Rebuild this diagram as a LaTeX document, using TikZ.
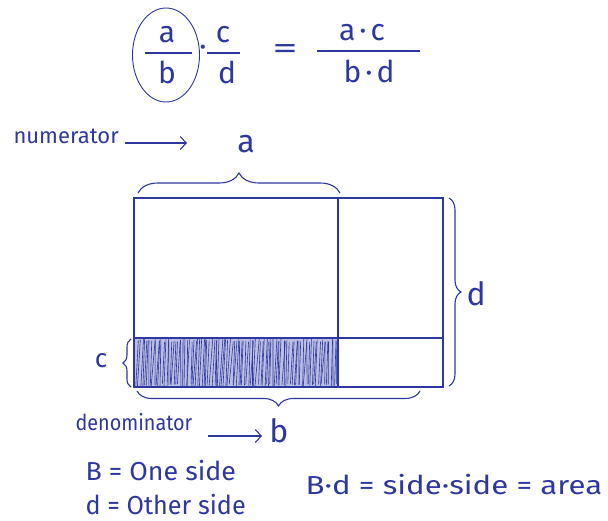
\documentclass[tikz,border=0pt]{standalone}
\usepackage{fontspec}
\setmainfont{Fira Sans}
\usetikzlibrary{decorations.pathreplacing,arrows.meta,shapes.geometric}
\definecolor{ink}{RGB}{45,55,160}
\begin{document}
\begin{tikzpicture}[x=1pt,y=-1pt,line width=1.1pt,draw=ink,
  lbl/.style={text=ink,inner sep=0pt,font=\fontsize{22}{24}\selectfont},
  big/.style={text=ink,inner sep=0pt,font=\fontsize{26}{28}\selectfont},
  let/.style={text=ink,inner sep=0pt,font=\fontsize{32}{34}\selectfont},
  eq/.style={text=ink,inner sep=0pt,font=\fontsize{30}{32}\selectfont},
  brc/.style={decorate,decoration={brace,amplitude=#1}},
  handarrow/.style={-{Straight Barb[length=6pt,width=13pt]}}]
\useasboundingbox (0,0) rectangle (608,520);

% ---- equation ----
\node[draw=ink,ellipse,minimum width=67pt,minimum height=94pt,line width=0.9pt] (circ) at (166,55) {};
\node[eq] (fa) at (167,35) {a};
\node[eq] (fb) at (167,72) {b};
\draw (145,53) -- (192,53);
\node[eq] (dot1) at (203,51) {·};
\node[eq] (fc) at (223,35) {c};
\node[eq] (fd) at (227,72) {d};
\draw (207,53) -- (240,53);
\node[eq] (eqs) at (285,52) {\scalebox{1.7}[1]{=}};
\node[eq] (ac) at (362,33) {a\hspace{4pt}·\hspace{4pt}c};
\node[eq] (bd) at (369,71) {b\hspace{4pt}·\hspace{4pt}d};
\draw (317,51) -- (420,51);

% ---- numerator ----
\node[lbl,anchor=base west] (num) at (13,143) {numerator};
\coordinate (numend) at (187,143);
\draw[handarrow] ([xshift=6pt]num.base east) -- (numend);
\node[let,anchor=base] (la) at (246,152) {a};

% ---- rectangle ----
\coordinate (tl) at (134,198);
\coordinate (br) at (443,387);
\coordinate (vt) at (338,198);
\coordinate (vb) at (338,387);
\coordinate (hl) at (134,338);
\coordinate (hr) at (443,338);
\fill[ink!32] (hl) rectangle (vb);
\pgfmathsetseed{7}
\foreach \x in {136,138,...,336}{
  \pgfmathsetmacro\ra{rand*1.2}
  \pgfmathsetmacro\rb{rand*1.5}
  \pgfmathsetmacro\rc{rand*2}
  \draw[line width=0.6pt,ink] (\x+\ra,386-\rc) -- (\x+2+\rb,340+\rc);
}
\draw (tl) rectangle (br);
\draw (vt) -- (vb);
\draw (hl) -- (hr);

% ---- braces ----
\coordinate (ta) at (138,193);
\coordinate (tb) at (340,193);
\draw[brc=20pt] (ta) -- (tb);

\coordinate (ra) at (449,198);
\coordinate (rb) at (449,386);
\draw[brc=12pt] (ra) -- (rb);
\node[let,anchor=west] (ld) at (466,294) {d};

\coordinate (ca) at (131,387);
\coordinate (cb) at (131,339);
\draw[brc=8pt] (ca) -- (cb);
\node[big] (lc) at (101,361) {c};

\coordinate (ba) at (420,391);
\coordinate (bb) at (137,391);
\draw[brc=15pt] (ba) -- (bb);

% ---- denominator ----
\node[lbl,anchor=base west] (den) at (75,430) {\scalebox{0.9}[1]{denominator}};
\coordinate (denend) at (262,436);
\draw[handarrow] ([xshift=15pt,yshift=-6pt]den.base east) -- (denend);
\node[let,anchor=base] (lb) at (279,442) {b};

% ---- bottom notes ----
\node[big,anchor=base west] (n1) at (85,480) {\scalebox{1.03}[1]{B = One side}};
\node[big,anchor=base west] (n2) at (85,514) {\scalebox{0.97}[1]{d = Other side}};
\node[big,anchor=base west] (n3) at (305,494) {\scalebox{1.2}[1]{B·d = side·side = area}};
\end{tikzpicture}
\end{document}
